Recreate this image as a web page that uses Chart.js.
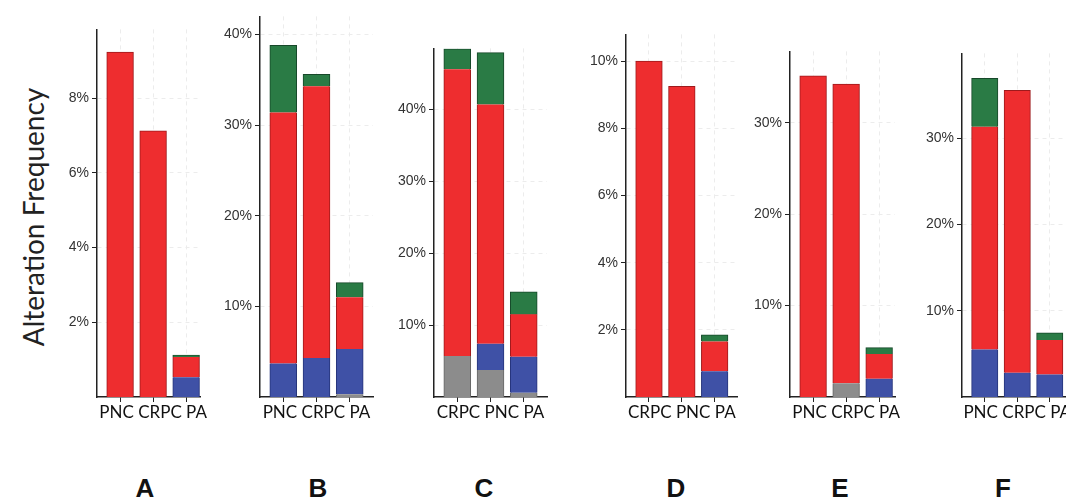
<!DOCTYPE html>
<html>
<head>
<meta charset="utf-8">
<script src="https://cdn.jsdelivr.net/npm/chart.js@4"></script>
<style>
body { margin: 0; background: #fff; width: 1066px; height: 500px; position: relative; overflow: hidden; }
canvas { position: absolute; }
.lettre { position: absolute; top: 488px; transform: translate(-50%, -50%); font: bold 26px "Liberation Sans", Arial, sans-serif; color: #111; }
#titreY { position: absolute; left: 33px; top: 217px; transform: translate(-50%, -50%) rotate(-90deg); font: 28px Lato, sans-serif; color: #222; white-space: nowrap; }
</style>
</head>
<body>
<div id="titreY">Alteration Frequency</div>
<div class="lettre" style="left:145px">A</div>
<div class="lettre" style="left:318px">B</div>
<div class="lettre" style="left:484px">C</div>
<div class="lettre" style="left:676px">D</div>
<div class="lettre" style="left:840px">E</div>
<div class="lettre" style="left:1003px">F</div>
<script>
// Données (en %), empilées de bas en haut : gris, bleu, rouge, vert
const catsA = ['PNC', 'CRPC', 'PA'];
const grisA = [0, 0, 0];
const bleuA = [0, 0, 0.53];
const rougeA = [9.23, 7.12, 0.54];
const vertA = [0, 0, 0.05];
const ticksA = [2, 4, 6, 8];

const catsB = ['PNC', 'CRPC', 'PA'];
const grisB = [0, 0, 0.3];
const bleuB = [3.7, 4.3, 5.0];
const rougeB = [27.7, 30.0, 5.7];
const vertB = [7.4, 1.3, 1.6];
const ticksB = [10, 20, 30, 40];

const catsC = ['CRPC', 'PNC', 'PA'];
const grisC = [5.7, 3.75, 0.6];
const bleuC = [0, 3.65, 5.0];
const rougeC = [39.9, 33.3, 5.9];
const vertC = [2.8, 7.2, 3.1];
const ticksC = [10, 20, 30, 40];

const catsD = ['CRPC', 'PNC', 'PA'];
const grisD = [0, 0, 0];
const bleuD = [0, 0, 0.77];
const rougeD = [10.0, 9.25, 0.88];
const vertD = [0, 0, 0.2];
const ticksD = [2, 4, 6, 8, 10];

const catsE = ['PNC', 'CRPC', 'PA'];
const grisE = [0, 1.5, 0];
const bleuE = [0, 0, 2.0];
const rougeE = [35.1, 32.7, 2.7];
const vertE = [0, 0, 0.7];
const ticksE = [10, 20, 30];

const catsF = ['PNC', 'CRPC', 'PA'];
const grisF = [0, 0, 0];
const bleuF = [5.5, 2.8, 2.6];
const rougeF = [25.8, 32.7, 4.0];
const vertF = [5.6, 0, 0.8];
const ticksF = [10, 20, 30];

const BASE = 397;  // ligne de l'axe des x (px)
const MARGE = 20;  // place à droite pour les étiquettes qui débordent

// Position de chaque panneau : axe y, haut de l'axe, bord droit, bornes
const panneaux = [
    { cats: catsA, gris: grisA, bleu: bleuA, rouge: rougeA, vert: vertA, graduations: ticksA, axeX: 97,  haut: 28, droite: 200,  yMax: 9.84, xMax: 3.42 },
    { cats: catsB, gris: grisB, bleu: bleuB, rouge: rougeB, vert: vertB, graduations: ticksB, axeX: 260, haut: 15, droite: 373,  yMax: 42.0, xMax: 3.70 },
    { cats: catsC, gris: grisC, bleu: bleuC, rouge: rougeC, vert: vertC, graduations: ticksC, axeX: 434, haut: 47, droite: 547,  yMax: 48.5, xMax: 3.70 },
    { cats: catsD, gris: grisD, bleu: bleuD, rouge: rougeD, vert: vertD, graduations: ticksD, axeX: 626, haut: 33, droite: 737,  yMax: 10.8, xMax: 3.68 },
    { cats: catsE, gris: grisE, bleu: bleuE, rouge: rougeE, vert: vertE, graduations: ticksE, axeX: 790, haut: 50, droite: 895,  yMax: 37.8, xMax: 3.48 },
    { cats: catsF, gris: grisF, bleu: bleuF, rouge: rougeF, vert: vertF, graduations: ticksF, axeX: 962, haut: 52, droite: 1066, yMax: 39.8, xMax: 3.50 }
];

function dessinerPanneau(p) {
    const c = document.createElement('canvas');
    const gauche = p.axeX - 60;
    c.width = p.droite - gauche + MARGE;
    c.height = (BASE - p.haut) + 10 + 28;
    c.style.left = gauche + 'px';
    c.style.top = (p.haut - 10) + 'px';
    document.body.appendChild(c);

    const series = [
        { label: 'gris',  data: p.gris,  fond: '#8c8c8c', bord: '#666666' },
        { label: 'bleu',  data: p.bleu,  fond: '#3f51a6', bord: '#26347a' },
        { label: 'rouge', data: p.rouge, fond: '#ee2d2f', bord: '#9e1a1c' },
        { label: 'vert',  data: p.vert,  fond: '#2a7b45', bord: '#17482a' }
    ];

    // indice de la série qui forme le sommet de chaque barre
    const sommet = p.cats.map((_, i) => {
        let k = 0;
        series.forEach((s, j) => { if (s.data[i] > 0) k = j; });
        return k;
    });

    new Chart(c, {
        type: 'bar',
        data: {
            datasets: series.map((s, j) => ({
                label: s.label,
                data: s.data.map((v, i) => ({ x: i + 1, y: v })),
                backgroundColor: s.fond,
                borderColor: s.bord,
                borderWidth: ctx => ({ left: 1, right: 1, top: sommet[ctx.dataIndex] === j ? 1 : 0, bottom: 0 }),
                inflateAmount: 0.5,
                barPercentage: 0.8,
                categoryPercentage: 1
            }))
        },
        options: {
            responsive: false,
            animation: false,
            devicePixelRatio: 1,
            layout: { padding: { top: 10, left: 0, right: MARGE, bottom: 0 } },
            plugins: { legend: { display: false }, tooltip: { enabled: false } },
            scales: {
                x: {
                    type: 'linear', stacked: true, min: 0.3, max: p.xMax, offset: false,
                    afterBuildTicks: s => { s.ticks = p.cats.map((_, i) => ({ value: i + 1 })); },
                    afterFit: s => { s.height = 28; },
                    // les étiquettes forment une seule ligne centrée sous la barre du milieu, comme sur la figure
                    ticks: { callback: (v, i) => i === 1 ? p.cats.join(' ') : '', font: { family: 'Lato', size: 17 }, color: '#111', padding: 0, maxRotation: 0, autoSkip: false },
                    grid: { offset: false, color: '#ececec', tickColor: '#222', tickLength: 5, tickBorderDash: [] },
                    border: { color: '#222', width: 1.5, dash: [4, 4] }
                },
                y: {
                    stacked: true, min: 0, max: p.yMax,
                    afterBuildTicks: s => { s.ticks = p.graduations.map(v => ({ value: v })); },
                    afterFit: s => { s.width = 60; },
                    ticks: { callback: v => v + '%', font: { family: 'Liberation Sans', size: 14 }, color: '#333', padding: 3 },
                    grid: { color: '#ececec', tickColor: '#222', tickLength: 5, tickBorderDash: [] },
                    border: { color: '#222', width: 1.5, dash: [4, 4] }
                }
            }
        }
    });
}

panneaux.forEach(dessinerPanneau);
</script>
</body>
</html>
